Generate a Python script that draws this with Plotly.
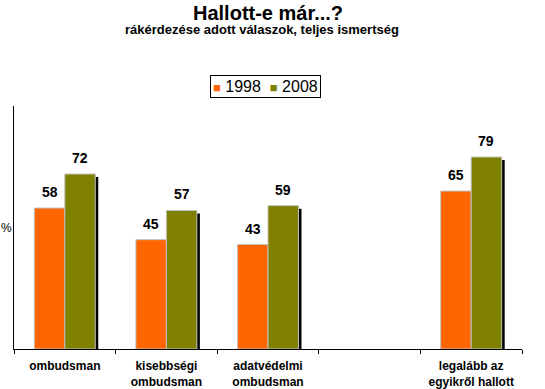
import plotly.graph_objects as go

categories = ["ombudsman", "kisebbségi<br>ombudsman", "adatvédelmi<br>ombudsman", " ", "legalább az<br>egyikről hallott"]
values_1998 = [58, 45, 43, None, 65]
values_2008 = [72, 57, 59, None, 79]
series_names = ["1998", "2008"]
colors = ["#FF6600", "#808000"]

W, H = 545, 389
ml, mr, mt, mb = 14, 23, 106, 40
plot_w = W - ml - mr
plot_h = H - mt - mb
cat_px = plot_w / len(categories)
bw = 0.3
sx = 3 / cat_px               # 3px shadow offset in category units
sy = 3 / plot_h * 100         # 3px shadow offset in y units
FONT = "Liberation Sans, Arial"

fig = go.Figure()

# shadows
for off, vals in [(-bw, values_1998), (0, values_2008)]:
    fig.add_trace(go.Bar(
        x=categories, y=vals,
        base=[None if v is None else -sy for v in vals],
        offset=off + sx, width=bw,
        marker=dict(color="black", line=dict(width=0)),
        showlegend=False, hoverinfo="skip"))

for name, vals, col, off in [(series_names[0], values_1998, colors[0], -bw),
                             (series_names[1], values_2008, colors[1], 0)]:
    fig.add_trace(go.Bar(
        x=categories, y=vals, name=name, offset=off, width=bw, showlegend=False,
        marker=dict(color=col, line=dict(color="#C0C0C0", width=1))))

annotations = []
for i, (a, b) in enumerate(zip(values_1998, values_2008)):
    for v, dx in [(a, -bw / 2), (b, bw / 2)]:
        if v is None:
            continue
        annotations.append(dict(x=i + dx, y=v, xref="x", yref="y", text=f"<b>{v}</b>",
                                showarrow=False, yanchor="bottom", yshift=6,
                                font=dict(family=FONT, size=14, color="black")))

# y axis title
annotations.append(dict(x=0, y=0.5, xref="paper", yref="paper", text="%", showarrow=False,
                        xanchor="right", xshift=0, yshift=0,
                        font=dict(family=FONT, size=12, color="black")))
# subtitle
annotations.append(dict(x=0.5, y=1, xref="paper", yref="paper", yanchor="middle",
                        text="<b>rákérdezése adott válaszok, teljes ismertség</b>", showarrow=False,
                        xshift=-6, yshift=mt - 29,
                        font=dict(family=FONT, size=13, color="black")))
# legend box
legend_text = "&nbsp;&nbsp;".join(
    f'<span style="color:{c};font-size:13px">■</span>&nbsp;{n}' for n, c in zip(series_names, colors))
annotations.append(dict(x=0.5, y=1, xref="paper", yref="paper", yanchor="middle",
                        text=legend_text, showarrow=False, xshift=-3, yshift=mt - 86,
                        bordercolor="black", borderwidth=1, borderpad=2, bgcolor="white",
                        font=dict(family=FONT, size=16, color="black")))

fig.update_layout(
    width=W, height=H,
    margin=dict(l=ml, r=mr, t=mt, b=mb, pad=0, autoexpand=False),
    paper_bgcolor="white", plot_bgcolor="white",
    barmode="overlay",
    showlegend=False,
    title=dict(text="<b>Hallott-e már...?</b>", x=0.5, xanchor="center", xref="paper",
               y=1 - 13 / H, yanchor="middle",
               font=dict(family=FONT, size=20, color="black")),
    annotations=annotations,
    xaxis=dict(type="category", tickson="boundaries", ticks="outside", ticklen=4,
               tickcolor="black", showline=True, linecolor="black", linewidth=1,
               showgrid=False, tickfont=dict(family=FONT, size=12, color="black"),
               tickangle=0, ticktext=[f"<b>{c}</b>" for c in categories], tickvals=categories,
               ticklabelstandoff=6),
    yaxis=dict(range=[0, 100], showline=True, linecolor="black", linewidth=1,
               showgrid=False, showticklabels=False, ticks="", zeroline=False),
    font=dict(family=FONT),
)

fig.write_html("out.html", config={"displayModeBar": False},
               post_script="document.body.style.margin='0';document.body.style.overflow='hidden';")
